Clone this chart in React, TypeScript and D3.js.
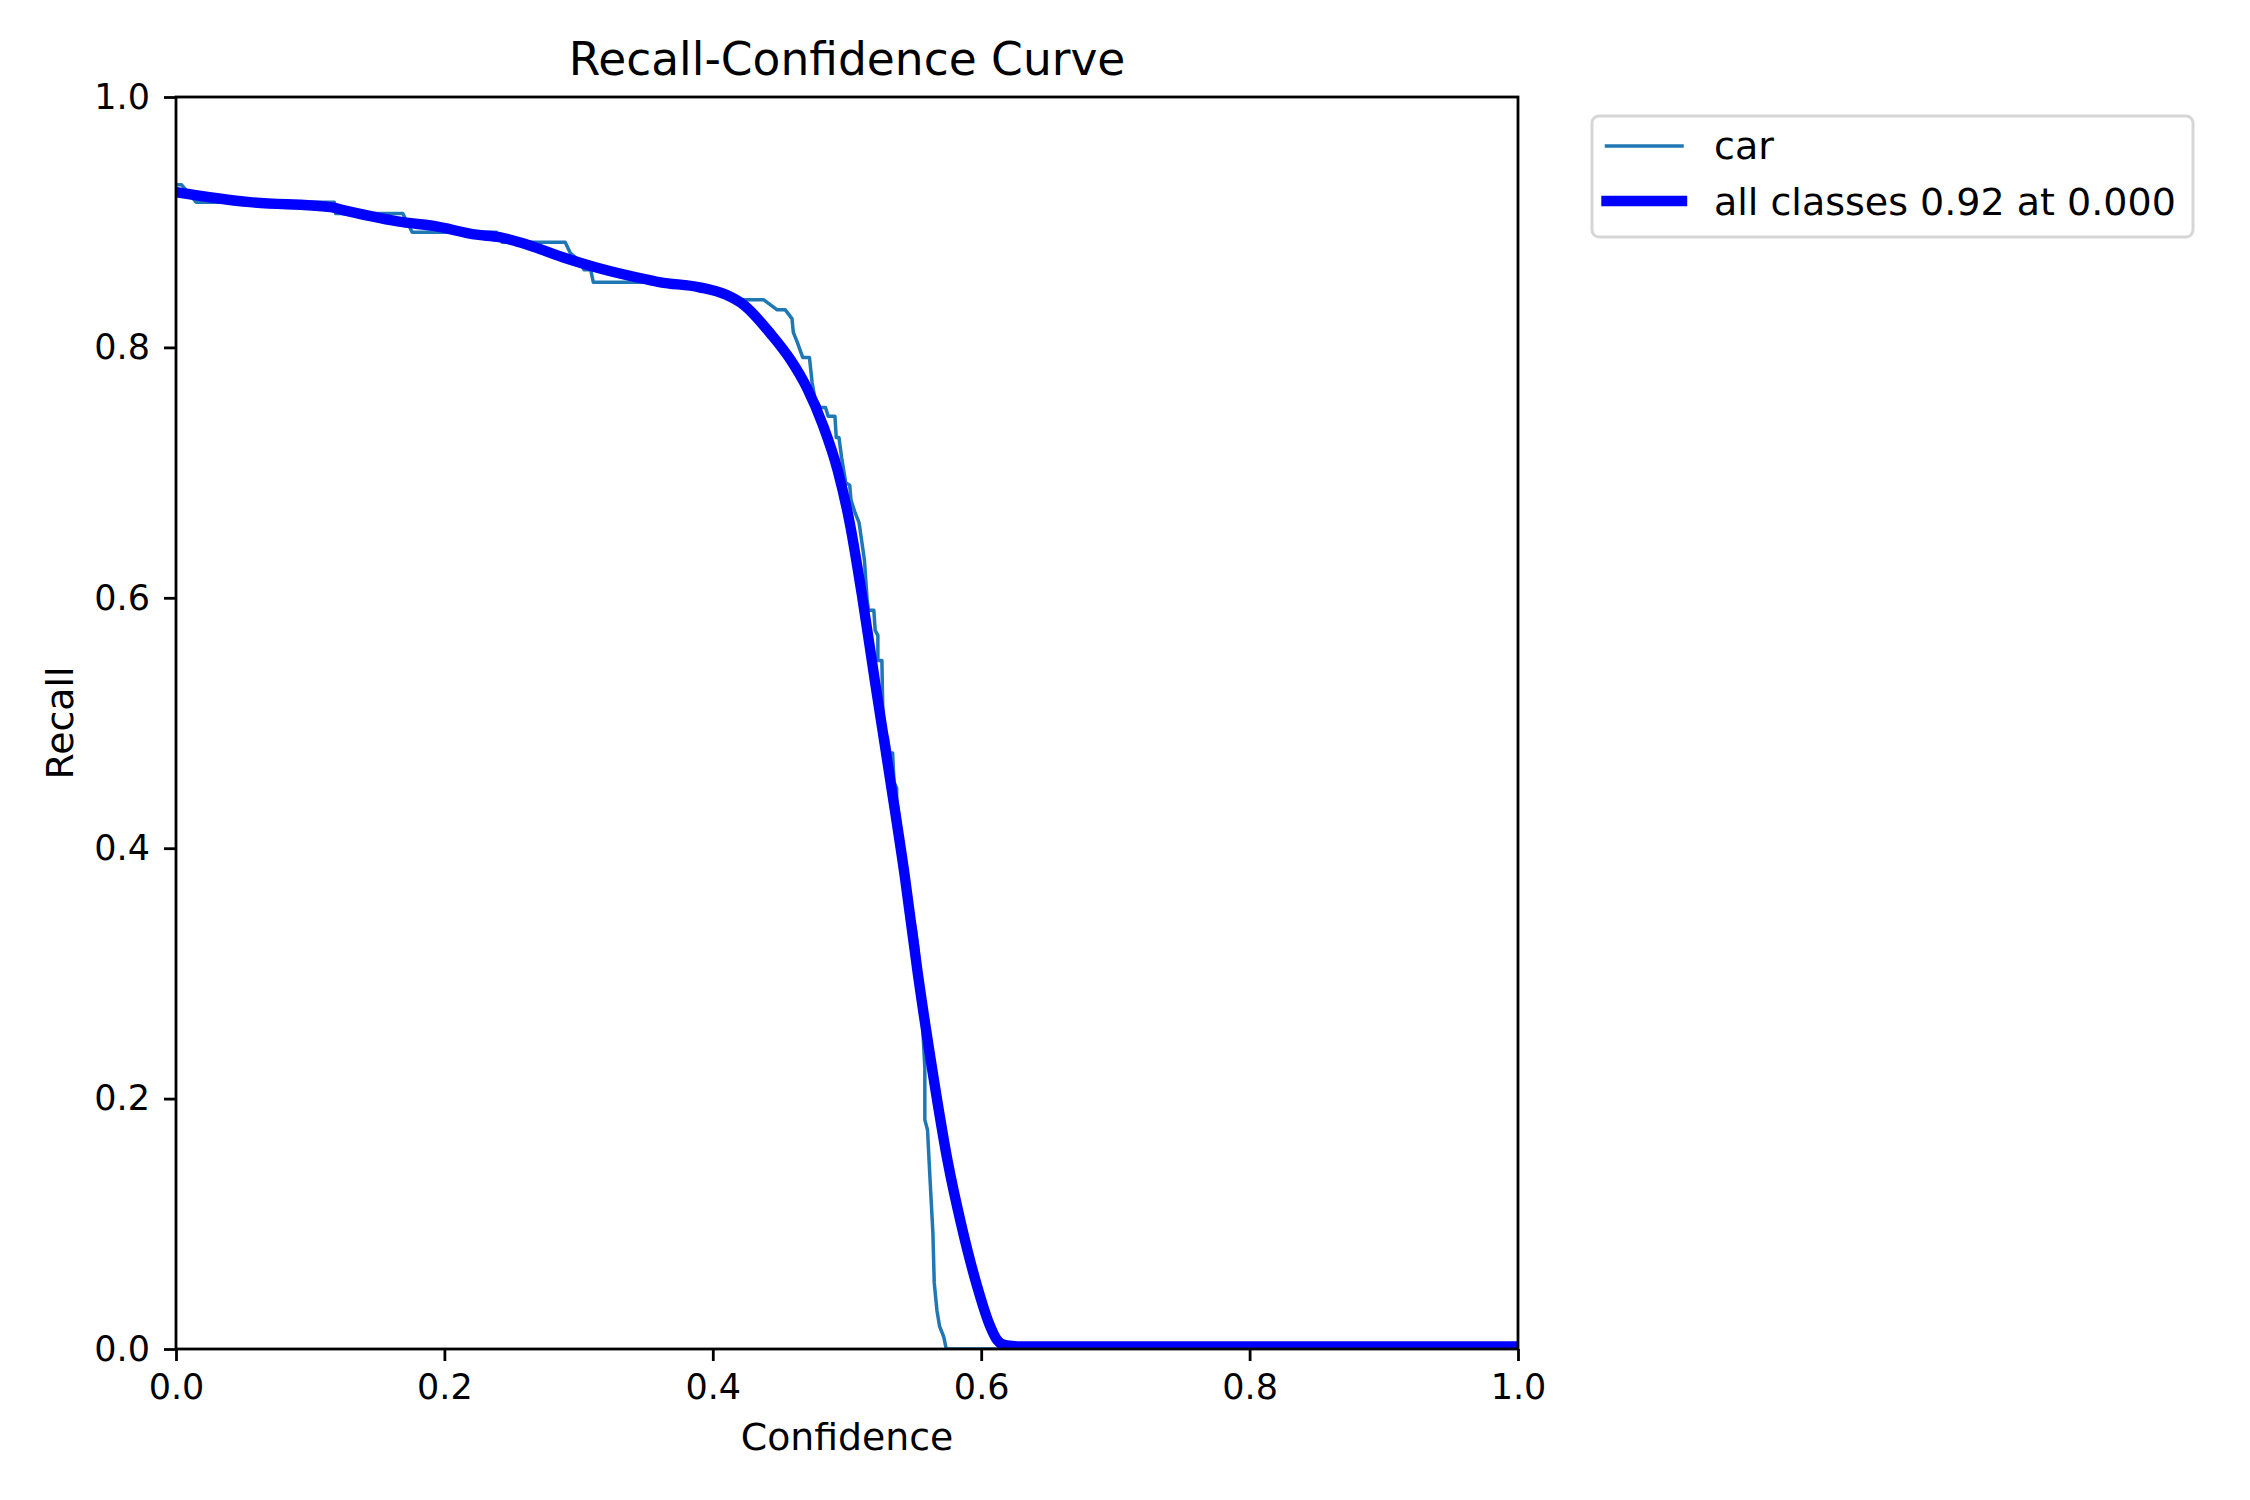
import { useEffect, useRef } from "react";
import * as d3 from "d3";

// curva suavizada "all classes"
const allConf = [
  0, 0.055, 0.115, 0.127, 0.169, 0.192, 0.224, 0.241, 0.256, 0.291, 0.316,
  0.343, 0.361, 0.39, 0.41, 0.423, 0.443, 0.458, 0.47, 0.482, 0.493, 0.502,
  0.511, 0.521, 0.532, 0.543, 0.553, 0.564, 0.575, 0.585, 0.597, 0.606,
  0.612, 0.618, 0.63, 0.7, 0.8, 0.9, 1.0,
];
const allRecall = [
  0.924, 0.916, 0.912, 0.909, 0.9, 0.897, 0.89, 0.888, 0.884, 0.871, 0.863,
  0.856, 0.852, 0.848, 0.842, 0.834, 0.811, 0.79, 0.768, 0.738, 0.702, 0.66,
  0.603, 0.532, 0.456, 0.378, 0.298, 0.22, 0.15, 0.1, 0.05, 0.02, 0.007,
  0.003, 0.002, 0.002, 0.002, 0.002, 0.002,
];

// curva escalonada "car"
const carConf = [
  0, 0.004, 0.015, 0.118, 0.119, 0.169, 0.176, 0.239, 0.243, 0.29, 0.294,
  0.3, 0.304, 0.309, 0.311, 0.381, 0.383, 0.41, 0.416, 0.438, 0.448, 0.454,
  0.459, 0.46, 0.463, 0.465, 0.467, 0.472, 0.474, 0.476, 0.48, 0.484, 0.486,
  0.491, 0.492, 0.494, 0.496, 0.499, 0.502, 0.503, 0.506, 0.509, 0.513,
  0.515, 0.516, 0.52, 0.521, 0.523, 0.523, 0.526, 0.527, 0.53, 0.532, 0.534,
  0.535, 0.537, 0.537, 0.538, 0.54, 0.542, 0.545, 0.546, 0.55, 0.551, 0.553,
  0.556, 0.558, 0.558, 0.56, 0.562, 0.564, 0.565, 0.567, 0.569, 0.572, 0.574,
  1.0,
];
const carRecall = [
  0.93, 0.93, 0.916, 0.916, 0.907, 0.907, 0.892, 0.892, 0.884, 0.884, 0.875,
  0.87, 0.862, 0.862, 0.852, 0.852, 0.848, 0.843, 0.838, 0.838, 0.83, 0.83,
  0.823, 0.812, 0.804, 0.798, 0.792, 0.792, 0.772, 0.76, 0.752, 0.752, 0.745,
  0.745, 0.728, 0.728, 0.712, 0.692, 0.69, 0.678, 0.668, 0.66, 0.63, 0.598,
  0.59, 0.59, 0.574, 0.57, 0.55, 0.55, 0.489, 0.489, 0.476, 0.476, 0.453,
  0.448, 0.438, 0.432, 0.415, 0.375, 0.373, 0.345, 0.34, 0.335, 0.319, 0.265,
  0.225, 0.183, 0.175, 0.133, 0.093, 0.053, 0.031, 0.018, 0.01, 0, 0,
];

const xTicks = [0, 0.2, 0.4, 0.6, 0.8, 1.0];
const yTicks = [0, 0.2, 0.4, 0.6, 0.8, 1.0];

const legendLabels = ["car", "all classes 0.92 at 0.000"];

export default function RecallConfidence() {
  const ref = useRef<HTMLDivElement>(null);

  useEffect(() => {
    if (!ref.current) return;
    d3.select(ref.current).selectAll("*").remove();

    const W = 2250;
    const H = 1500;
    const left = 176;
    const right = 1518;
    const top = 97;
    const bottom = 1349;
    const font = "DejaVu Sans, sans-serif";

    const svg = d3
      .select(ref.current)
      .append("svg")
      .attr("width", W)
      .attr("height", H)
      .style("position", "absolute")
      .style("left", "0px")
      .style("top", "0px")
      .style("background", "#fff");

    const x = d3.scaleLinear().domain([0, 1]).range([left, right]);
    const y = d3.scaleLinear().domain([0, 1]).range([bottom, top]);

    svg
      .append("clipPath")
      .attr("id", "plot-clip")
      .append("rect")
      .attr("x", left)
      .attr("y", top)
      .attr("width", right - left)
      .attr("height", bottom - top);

    const carPts: [number, number][] = carConf.map((c, i) => [c, carRecall[i]]);
    const allPts: [number, number][] = allConf.map((c, i) => [c, allRecall[i]]);

    const lineLin = d3
      .line<[number, number]>()
      .x((d) => x(d[0]))
      .y((d) => y(d[1]));
    const lineSmooth = d3
      .line<[number, number]>()
      .x((d) => x(d[0]))
      .y((d) => y(d[1]))
      .curve(d3.curveMonotoneX);

    const plot = svg.append("g").attr("clip-path", "url(#plot-clip)");
    plot
      .append("path")
      .attr("d", lineLin(carPts))
      .attr("fill", "none")
      .attr("stroke", "#1f77b4")
      .attr("stroke-width", 3.5)
      .attr("stroke-linejoin", "round");
    plot
      .append("path")
      .attr("d", lineSmooth(allPts))
      .attr("fill", "none")
      .attr("stroke", "#0000ff")
      .attr("stroke-width", 10.4)
      .attr("stroke-linejoin", "round");

    // ejes
    const xAxis = svg
      .append("g")
      .attr("transform", `translate(0,${bottom})`)
      .call(
        d3
          .axisBottom(x)
          .tickValues(xTicks)
          .tickFormat(d3.format(".1f"))
          .tickSize(12)
          .tickSizeOuter(0)
          .tickPadding(13)
      );
    const yAxis = svg
      .append("g")
      .attr("transform", `translate(${left},0)`)
      .call(
        d3
          .axisLeft(y)
          .tickValues(yTicks)
          .tickFormat(d3.format(".1f"))
          .tickSize(12)
          .tickSizeOuter(0)
          .tickPadding(14)
      );
    [xAxis, yAxis].forEach((g) => {
      g.select(".domain").remove();
      g.selectAll("line").attr("stroke", "#000").attr("stroke-width", 2.8);
      g.selectAll("text")
        .attr("fill", "#000")
        .style("font-family", font)
        .style("font-size", "35px");
    });

    // marco
    svg
      .append("rect")
      .attr("x", left)
      .attr("y", top)
      .attr("width", right - left)
      .attr("height", bottom - top)
      .attr("fill", "none")
      .attr("stroke", "#000")
      .attr("stroke-width", 2.8)
      .attr("stroke-linecap", "square");

    // títulos
    svg
      .append("text")
      .attr("x", (left + right) / 2)
      .attr("y", 75)
      .attr("text-anchor", "middle")
      .style("font-family", font)
      .style("font-size", "45.5px")
      .text("Recall-Confidence Curve");
    svg
      .append("text")
      .attr("x", (left + right) / 2)
      .attr("y", 1450)
      .attr("text-anchor", "middle")
      .style("font-family", font)
      .style("font-size", "37.8px")
      .text("Confidence");
    svg
      .append("text")
      .attr("transform", `translate(73,${(top + bottom) / 2}) rotate(-90)`)
      .attr("text-anchor", "middle")
      .style("font-family", font)
      .style("font-size", "37.8px")
      .text("Recall");

    // leyenda
    const lg = svg.append("g");
    lg.append("rect")
      .attr("x", 1592)
      .attr("y", 116)
      .attr("width", 601)
      .attr("height", 121)
      .attr("rx", 7)
      .attr("fill", "#fff")
      .attr("fill-opacity", 0.8)
      .attr("stroke", "#d6d6d6")
      .attr("stroke-width", 3);
    const rows = [
      { color: "#1f77b4", w: 3.5, cy: 146, ty: 159 },
      { color: "#0000ff", w: 10.4, cy: 201, ty: 215 },
    ];
    rows.forEach((r, i) => {
      lg.append("line")
        .attr("x1", 1606.5)
        .attr("x2", 1682)
        .attr("y1", r.cy)
        .attr("y2", r.cy)
        .attr("stroke", r.color)
        .attr("stroke-width", r.w)
        .attr("stroke-linecap", "square");
      lg.append("text")
        .attr("x", 1714)
        .attr("y", r.ty)
        .style("font-family", font)
        .style("font-size", "38px")
        .text(legendLabels[i]);
    });
  }, []);

  return <div ref={ref} />;
}
